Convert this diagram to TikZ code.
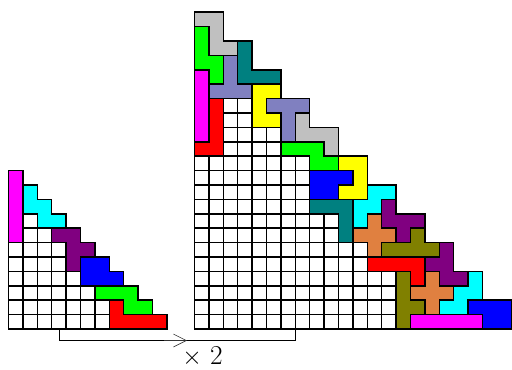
\documentclass[tikz,border=0pt]{standalone}
\usetikzlibrary{arrows.meta}

\definecolor{tMag}{HTML}{FF00FF}
\definecolor{tCyan}{HTML}{00FFFF}
\definecolor{tPurp}{HTML}{800080}
\definecolor{tBlue}{HTML}{0000FF}
\definecolor{tGreen}{HTML}{00FF00}
\definecolor{tRed}{HTML}{FF0000}
\definecolor{tGray}{HTML}{C0C0C0}
\definecolor{tTeal}{HTML}{008080}
\definecolor{tLav}{HTML}{8080C0}
\definecolor{tYel}{HTML}{FFFF00}
\definecolor{tOran}{HTML}{E08040}
\definecolor{tOlive}{HTML}{808000}

\begin{document}
\begin{tikzpicture}[
  x=0.5cm, y=0.5cm,
  cell/.style={draw=black, fill=white, line width=1.5pt},
  piece/.style={draw=black, line width=1.5pt},
  brk/.style={black, semithick},
  brarr/.style={-{Straight Barb[length=4.5mm,width=4.5mm]}, semithick, black!80},
  lbl/.style={font=\fontsize{27}{30}\selectfont, inner sep=0pt},
]

  \def\xR{12.92}   % left edge of the doubled region

  \useasboundingbox (-0.59,-2.78) rectangle (34.97,22.85);

  % --- Small region: grid ---
  \foreach \r in {0,...,10} {
    \pgfmathtruncatemacro{\w}{10-\r}
    \foreach \c in {0,...,\w}
      \draw[cell] (\c,\r) rectangle ++(1,1);
  }

  % --- Small region: tiles ---
  \draw[piece, fill=tMag] (0,6) rectangle (1,11);
  \draw[piece, fill=tCyan] (1,10) -- (2,10) -- (2,9) -- (3,9) -- (3,8) -- (4,8)
    -- (4,7) -- (2,7) -- (2,8) -- (1,8) -- cycle;
  \draw[piece, fill=tPurp] (3,7) -- (5,7) -- (5,6) -- (6,6) -- (6,5) -- (5,5)
    -- (5,4) -- (4,4) -- (4,6) -- (3,6) -- cycle;
  \draw[piece, fill=tBlue] (5,5) -- (7,5) -- (7,4) -- (8,4) -- (8,3) -- (5,3) -- cycle;
  \draw[piece, fill=tGreen] (6,3) -- (9,3) -- (9,2) -- (10,2) -- (10,1) -- (8,1)
    -- (8,2) -- (6,2) -- cycle;
  \draw[piece, fill=tRed] (7,2) -- (8,2) -- (8,1) -- (11,1) -- (11,0) -- (7,0) -- cycle;

  \begin{scope}[shift={(\xR,0)}]
    % --- Doubled region: grid ---
    \foreach \r in {0,...,21} {
      \pgfmathtruncatemacro{\w}{21-2*floor(\r/2)}
      \foreach \c in {0,...,\w}
        \draw[cell] (\c,\r) rectangle ++(1,1);
    }

    % --- Doubled region: tiles, top to bottom ---
    \draw[piece, fill=tGray] (0,22) -- (2,22) -- (2,20) -- (3,20) -- (3,19) -- (1,19)
      -- (1,21) -- (0,21) -- cycle;
    \draw[piece, fill=tGreen] (0,21) -- (1,21) -- (1,19) -- (2,19) -- (2,17) -- (1,17)
      -- (1,18) -- (0,18) -- cycle;
    \draw[piece, fill=tTeal] (3,20) -- (4,20) -- (4,18) -- (6,18) -- (6,17) -- (3,17) -- cycle;
    \draw[piece, fill=tLav] (2,19) -- (3,19) -- (3,17) -- (4,17) -- (4,16) -- (1,16)
      -- (1,17) -- (2,17) -- cycle;
    \draw[piece, fill=tMag] (0,13) rectangle (1,18);
    \draw[piece, fill=tRed] (1,16) -- (2,16) -- (2,12) -- (0,12) -- (0,13) -- (1,13) -- cycle;
    \draw[piece, fill=tYel] (4,17) -- (6,17) -- (6,16) -- (5,16) -- (5,15) -- (6,15)
      -- (6,14) -- (4,14) -- cycle;
    \draw[piece, fill=tLav] (5,16) -- (8,16) -- (8,15) -- (7,15) -- (7,13) -- (6,13)
      -- (6,15) -- (5,15) -- cycle;
    \draw[piece, fill=tGray] (7,15) -- (8,15) -- (8,14) -- (10,14) -- (10,12) -- (9,12)
      -- (9,13) -- (7,13) -- cycle;
    \draw[piece, fill=tGreen] (6,13) -- (9,13) -- (9,12) -- (10,12) -- (10,11) -- (8,11)
      -- (8,12) -- (6,12) -- cycle;
    \draw[piece, fill=tYel] (10,12) -- (12,12) -- (12,9) -- (10,9) -- (10,10) -- (11,10)
      -- (11,11) -- (10,11) -- cycle;
    \draw[piece, fill=tBlue] (8,11) -- (11,11) -- (11,10) -- (10,10) -- (10,9) -- (8,9) -- cycle;
    \draw[piece, fill=tTeal] (8,9) -- (11,9) -- (11,6) -- (10,6) -- (10,8) -- (8,8) -- cycle;
    \draw[piece, fill=tCyan] (12,10) -- (14,10) -- (14,9) -- (13,9) -- (13,8) -- (12,8)
      -- (12,7) -- (11,7) -- (11,9) -- (12,9) -- cycle;
    \draw[piece, fill=tPurp] (13,9) -- (14,9) -- (14,8) -- (16,8) -- (16,7) -- (15,7)
      -- (15,6) -- (14,6) -- (14,7) -- (13,7) -- cycle;
    \draw[piece, fill=tOran] (12,8) -- (13,8) -- (13,7) -- (14,7) -- (14,6) -- (13,6)
      -- (13,5) -- (12,5) -- (12,6) -- (11,6) -- (11,7) -- (12,7) -- cycle;
    \draw[piece, fill=tOlive] (15,7) -- (16,7) -- (16,6) -- (17,6) -- (17,5) -- (13,5)
      -- (13,6) -- (15,6) -- cycle;
    \draw[piece, fill=tRed] (12,5) -- (16,5) -- (16,3) -- (15,3) -- (15,4) -- (12,4) -- cycle;
    \draw[piece, fill=tPurp] (17,6) -- (18,6) -- (18,4) -- (19,4) -- (19,3) -- (17,3)
      -- (17,4) -- (16,4) -- (16,5) -- (17,5) -- cycle;
    \draw[piece, fill=tOran] (16,4) -- (17,4) -- (17,3) -- (18,3) -- (18,2) -- (17,2)
      -- (17,1) -- (16,1) -- (16,2) -- (15,2) -- (15,3) -- (16,3) -- cycle;
    \draw[piece, fill=tOlive] (14,4) -- (15,4) -- (15,2) -- (16,2) -- (16,1) -- (15,1)
      -- (15,0) -- (14,0) -- cycle;
    \draw[piece, fill=tCyan] (19,4) -- (20,4) -- (20,2) -- (19,2) -- (19,1) -- (17,1)
      -- (17,2) -- (18,2) -- (18,3) -- (19,3) -- cycle;
    \draw[piece, fill=tBlue] (19,2) -- (22,2) -- (22,0) -- (20,0) -- (20,1) -- (19,1) -- cycle;
    \draw[piece, fill=tMag] (15,0) rectangle (20,1);
  \end{scope}

  % --- Bracket with scale factor ---
  \coordinate (brL) at (3.5,0);
  \coordinate (brR) at (\xR+7,0);
  \coordinate (brTip) at (12.4,-0.8);
  \draw[brk] (brL) -- ++(0,-0.8) -| (brR);
  \draw[brarr] ([xshift=-8mm]brTip) -- (brTip);
  \node[lbl] (factor) at (13.47,-1.9) {$\times$ 2};

\end{tikzpicture}
\end{document}
